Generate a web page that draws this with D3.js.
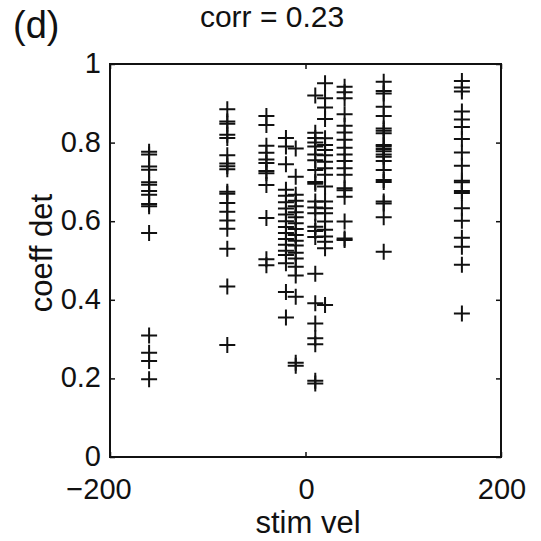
<!DOCTYPE html>
<html>
<head>
<meta charset="utf-8">
<script src="https://cdn.jsdelivr.net/npm/d3@7"></script>
<style>
  html, body { margin: 0; padding: 0; background: #fff; }
  svg text { font-family: "Liberation Sans", Arial, Helvetica, sans-serif; fill: #111; }
</style>
</head>
<body>
<div id="chart"></div>
<script>
// stimulus velocity columns and coeff det values
const detM160 = [0.777, 0.770, 0.739, 0.731, 0.699, 0.693, 0.677, 0.667, 0.644, 0.638, 0.570, 0.309, 0.265, 0.244, 0.198];
const detM80 = [0.885, 0.854, 0.848, 0.820, 0.812, 0.768, 0.747, 0.740, 0.732, 0.675, 0.670, 0.646, 0.624, 0.602, 0.581, 0.530, 0.434, 0.285];
const detM40 = [0.868, 0.845, 0.792, 0.774, 0.757, 0.748, 0.728, 0.722, 0.692, 0.608, 0.503, 0.488];
const detM20 = [0.812, 0.790, 0.745, 0.680, 0.665, 0.648, 0.632, 0.617, 0.600, 0.585, 0.570, 0.555, 0.540, 0.525, 0.514, 0.493, 0.420, 0.355];
const detM10 = [0.785, 0.713, 0.667, 0.652, 0.638, 0.623, 0.610, 0.595, 0.580, 0.565, 0.550, 0.538, 0.520, 0.505, 0.484, 0.462, 0.408, 0.240, 0.232];
const detP10 = [0.920, 0.825, 0.812, 0.800, 0.790, 0.770, 0.755, 0.730, 0.700, 0.695, 0.650, 0.635, 0.620, 0.586, 0.575, 0.560, 0.466, 0.391, 0.340, 0.302, 0.287, 0.194, 0.187];
const detP20 = [0.951, 0.913, 0.889, 0.860, 0.811, 0.794, 0.781, 0.768, 0.751, 0.735, 0.718, 0.688, 0.650, 0.633, 0.620, 0.599, 0.578, 0.561, 0.548, 0.531, 0.387];
const detP40 = [0.942, 0.928, 0.913, 0.872, 0.843, 0.826, 0.807, 0.787, 0.770, 0.753, 0.735, 0.718, 0.684, 0.679, 0.662, 0.599, 0.556, 0.552];
const detP80 = [0.955, 0.931, 0.925, 0.891, 0.868, 0.836, 0.830, 0.824, 0.794, 0.790, 0.784, 0.778, 0.770, 0.764, 0.753, 0.730, 0.705, 0.700, 0.650, 0.645, 0.610, 0.522];
const detP160 = [0.957, 0.940, 0.930, 0.879, 0.859, 0.840, 0.809, 0.775, 0.741, 0.703, 0.699, 0.677, 0.672, 0.633, 0.601, 0.558, 0.535, 0.489, 0.365];

const velocities = [-160, -80, -40, -20, -10, 10, 20, 40, 80, 160];
const columns = [detM160, detM80, detM40, detM20, detM10, detP10, detP20, detP40, detP80, detP160];

const xTicks = [-200, 0, 200];
const yTicks = [0, 0.2, 0.4, 0.6, 0.8, 1];

const panelLabel = "(d)";
const titleText = "corr = 0.23";
const xLabel = "stim vel";
const yLabel = "coeff det";

// flatten to points
const points = [];
velocities.forEach((v, i) => {
  columns[i].forEach(c => points.push({vel: v, det: c}));
});

const width = 541, height = 541;
const margin = {top: 64, right: 40, bottom: 84, left: 110};

const svg = d3.select("#chart").append("svg")
    .attr("width", width)
    .attr("height", height);

const x = d3.scaleLinear()
    .domain([-200, 200])
    .range([margin.left, width - margin.right]);

const y = d3.scaleLinear()
    .domain([0, 1])
    .range([height - margin.bottom, margin.top]);

// inside ticks on all four sides, like matlab box on
svg.append("g")
    .attr("transform", `translate(0,${y(0)})`)
    .call(d3.axisBottom(x).tickValues(xTicks).tickSize(-5).tickFormat(""))
    .call(g => g.select(".domain").remove());
svg.append("g")
    .attr("transform", `translate(0,${y(1)})`)
    .call(d3.axisTop(x).tickValues(xTicks).tickSize(-5).tickFormat(""))
    .call(g => g.select(".domain").remove());
svg.append("g")
    .attr("transform", `translate(${x(-200)},0)`)
    .call(d3.axisLeft(y).tickValues(yTicks).tickSize(-5).tickFormat(""))
    .call(g => g.select(".domain").remove());
svg.append("g")
    .attr("transform", `translate(${x(200)},0)`)
    .call(d3.axisRight(y).tickValues(yTicks).tickSize(-5).tickFormat(""))
    .call(g => g.select(".domain").remove());
svg.selectAll(".tick line").attr("stroke", "#111").attr("stroke-width", 1.5);

// frame
svg.append("rect")
    .attr("x", x(-200))
    .attr("y", y(1))
    .attr("width", x(200) - x(-200))
    .attr("height", y(0) - y(1))
    .attr("fill", "none")
    .attr("stroke", "#111")
    .attr("stroke-width", 2);

// tick labels
svg.append("g").selectAll("text")
  .data(xTicks)
  .enter().append("text")
    .attr("x", d => x(d))
    .attr("dx", d => d < 0 ? -11 : 1)
    .attr("y", 499)
    .attr("text-anchor", "middle")
    .style("font-size", "29px")
    .text(d => d < 0 ? "\u2212" + Math.abs(d) : d);

svg.append("g").selectAll("text")
  .data(yTicks)
  .enter().append("text")
    .attr("x", x(-200) - 9)
    .attr("y", d => y(d) + 9)
    .attr("text-anchor", "end")
    .style("font-size", "29px")
    .text(d => d3.format("~g")(d));

// plus markers
const half = 8;
svg.append("g")
  .selectAll("path.pt")
  .data(points)
  .enter().append("path")
    .attr("class", "pt")
    .attr("d", d => {
      const px = x(d.vel), py = y(d.det);
      return `M${px - half},${py}H${px + half}M${px},${py - half}V${py + half}`;
    })
    .attr("fill", "none")
    .attr("stroke", "#111")
    .attr("stroke-width", 2);

// labels
svg.append("text")
    .attr("x", 13)
    .attr("y", 38)
    .style("font-size", "38px")
    .text(panelLabel);

svg.append("text")
    .attr("x", 272)
    .attr("y", 27)
    .attr("text-anchor", "middle")
    .style("font-size", "30px")
    .text(titleText);

svg.append("text")
    .attr("x", 308)
    .attr("y", 533)
    .attr("text-anchor", "middle")
    .style("font-size", "31px")
    .text(xLabel);

svg.append("text")
    .attr("transform", "translate(52,253) rotate(-90)")
    .attr("text-anchor", "middle")
    .style("font-size", "31px")
    .text(yLabel);
</script>
</body>
</html>
